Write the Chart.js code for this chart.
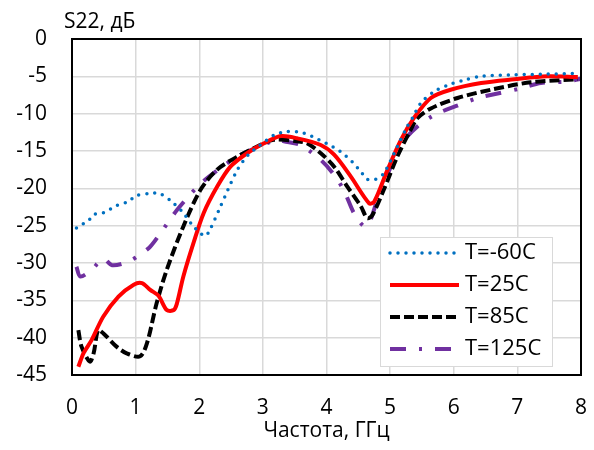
<!DOCTYPE html>
<html>
<head>
<meta charset="utf-8">
<script src="https://cdn.jsdelivr.net/npm/chart.js@4/dist/chart.umd.min.js"></script>
<style>
  html, body { margin: 0; padding: 0; background: #fff; }
  #chart { display: block; }
</style>
</head>
<body>
<canvas id="chart" width="594" height="450"></canvas>
<script>
// Частота, ГГц / S22, дБ для каждой температуры
const labels = ['T=-60C', 'T=25C', 'T=85C', 'T=125C'];

const fM60 = [0.07, 0.27, 0.34, 0.49, 0.68, 0.9, 1.0, 1.23, 1.38, 1.57, 1.75, 1.9, 2.09, 2.17, 2.33, 2.44, 2.6, 2.77, 2.93, 3.17, 3.38, 3.64, 3.88, 4.09, 4.22, 4.4, 4.56, 4.64, 4.77, 4.9, 5.12, 5.27, 5.35, 5.48, 5.69, 5.9, 6.16, 6.43, 6.95, 7.47, 7.95];
const sM60 = [-25.3, -24.2, -23.5, -23.3, -22.4, -21.7, -21.0, -20.7, -20.7, -21.8, -23.3, -25.0, -26.4, -25.5, -22.5, -20.4, -17.5, -15.5, -14.4, -12.9, -12.4, -12.6, -13.5, -14.4, -15.1, -16.4, -18.0, -18.8, -18.8, -18.0, -14.3, -11.7, -10.6, -8.6, -7.05, -6.2, -5.5, -5.0, -4.8, -4.7, -4.6];

const f25 = [0.1, 0.18, 0.31, 0.49, 0.73, 0.97, 1.1, 1.23, 1.36, 1.49, 1.6, 1.65, 1.75, 1.91, 2.07, 2.28, 2.49, 2.75, 3.01, 3.28, 3.54, 3.91, 4.12, 4.38, 4.67, 4.75, 4.96, 5.17, 5.38, 5.64, 5.95, 6.43, 6.95, 7.47, 7.95];
const s25 = [-43.9, -42.1, -40.3, -37.2, -34.5, -32.9, -32.7, -33.6, -34.4, -36.3, -36.3, -35.4, -31.8, -27.3, -23.3, -19.8, -17.1, -15.3, -14.0, -13.0, -13.3, -14.2, -15.5, -18.4, -22.0, -21.8, -17.5, -13.5, -10.5, -7.9, -6.8, -5.9, -5.4, -5.0, -5.1];

const f85 = [0.1, 0.15, 0.28, 0.34, 0.41, 0.49, 0.7, 0.86, 1.07, 1.18, 1.33, 1.49, 1.75, 2.02, 2.28, 2.59, 2.91, 3.17, 3.54, 3.7, 3.91, 4.12, 4.33, 4.54, 4.64, 4.72, 4.9, 5.11, 5.32, 5.43, 5.64, 6.06, 6.58, 7.21, 7.95];
const s85 = [-39.0, -41.2, -43.2, -42.1, -39.0, -39.4, -41.2, -42.1, -42.5, -40.7, -35.4, -30.9, -25.1, -20.2, -17.5, -15.8, -14.4, -13.5, -13.7, -14.0, -15.3, -17.1, -19.8, -22.4, -24.0, -23.6, -20.2, -15.8, -12.2, -10.6, -9.3, -7.9, -6.8, -5.8, -5.4];

const f125 = [0.07, 0.13, 0.31, 0.49, 0.63, 0.89, 1.1, 1.23, 1.39, 1.54, 1.65, 1.81, 2.03, 2.33, 2.59, 2.8, 3.22, 3.33, 3.59, 3.91, 4.12, 4.28, 4.43, 4.59, 4.67, 4.85, 5.03, 5.21, 5.43, 5.69, 6.03, 6.38, 6.69, 7.06, 7.37, 7.79, 8.0];
const s125 = [-30.5, -31.8, -30.9, -29.4, -30.3, -29.8, -28.7, -27.8, -26.0, -24.2, -22.9, -21.3, -19.3, -17.3, -15.8, -14.9, -13.5, -13.7, -14.2, -16.2, -18.2, -20.4, -23.3, -25.1, -24.7, -20.2, -16.8, -13.7, -11.7, -10.2, -9.0, -7.9, -7.3, -6.6, -5.9, -5.7, -5.3];

const FONT = '"Open Sans", sans-serif';

const pts = (xs, ys) => xs.map((x, i) => ({ x: x, y: ys[i] }));

const series = [
  { f: fM60, s: sM60, color: '#0070C0', width: 3.5, dash: [0, 8], cap: 'round' },
  { f: f25, s: s25, color: '#FF0000', width: 4, dash: [], cap: 'butt' },
  { f: f85, s: s85, color: '#000000', width: 4, dash: [10, 4], cap: 'butt' },
  { f: f125, s: s125, color: '#7030A0', width: 4, dash: [16, 13, 3, 13], cap: 'butt' }
];

// рамка вокруг области графика
const frame = {
  id: 'frame',
  afterDatasetsDraw(chart) {
    const a = chart.chartArea, c = chart.ctx;
    c.save();
    c.strokeStyle = '#000';
    c.lineWidth = 2;
    c.strokeRect(a.left, a.top, a.right - a.left, a.bottom - a.top);
    c.restore();
  }
};

// заголовок оси Y и легенда внутри графика
const extras = {
  id: 'extras',
  afterDraw(chart) {
    const c = chart.ctx;
    c.save();
    c.fillStyle = '#000';
    c.font = '21px ' + FONT;
    c.textBaseline = 'middle';
    c.textAlign = 'left';
    c.fillText('S22, дБ', 64, 22);

    const bx = 380, by = 237, bw = 172, bh = 129;
    c.fillStyle = '#fff';
    c.fillRect(bx, by, bw, bh);
    c.strokeStyle = '#D9D9D9';
    c.lineWidth = 1;
    c.strokeRect(bx + 0.5, by + 0.5, bw, bh);

    chart.data.datasets.forEach((ds, i) => {
      const y = 253 + i * 32;
      c.beginPath();
      c.strokeStyle = ds.borderColor;
      c.lineWidth = ds.borderWidth;
      c.lineCap = ds.borderCapStyle;
      c.setLineDash(ds.borderDash);
      c.moveTo(390, y);
      c.lineTo(459, y);
      c.stroke();
      c.setLineDash([]);
      c.fillStyle = '#000';
      c.font = '22px ' + FONT;
      c.fillText(ds.label, 465, y);
    });
    c.restore();
  }
};

new Chart(document.getElementById('chart'), {
  type: 'line',
  data: {
    datasets: series.map((d, i) => ({
      label: labels[i],
      data: pts(d.f, d.s),
      borderColor: d.color,
      backgroundColor: d.color,
      borderWidth: d.width,
      borderDash: d.dash,
      borderCapStyle: d.cap,
      pointRadius: 0,
      tension: 0.3,
      fill: false
    }))
  },
  options: {
    responsive: false,
    devicePixelRatio: 1,
    animation: false,
    layout: { padding: { top: 39, right: 13, left: 0, bottom: 0 } },
    plugins: { legend: { display: false }, tooltip: { enabled: false } },
    scales: {
      x: {
        type: 'linear',
        min: 0, max: 8,
        afterFit(scale) { scale.height = 75; scale.paddingLeft = 0; scale.paddingRight = 0; },
        ticks: { stepSize: 1, color: '#000', padding: 20, font: { family: FONT, size: 21 } },
        grid: { color: '#D9D9D9', lineWidth: 1.5, drawTicks: false },
        border: { display: false },
        title: { display: true, text: 'Частота, ГГц', color: '#000', padding: { top: 0, bottom: 6 }, font: { family: FONT, size: 21 } }
      },
      y: {
        min: -45, max: 0,
        afterFit(scale) { scale.width = 72; scale.paddingTop = 0; scale.paddingBottom = 0; },
        ticks: { stepSize: 5, color: '#000', padding: 25, font: { family: FONT, size: 21 } },
        grid: { color: '#D9D9D9', lineWidth: 1.5, drawTicks: false },
        border: { display: false }
      }
    }
  },
  plugins: [frame, extras]
});
</script>
</body>
</html>
